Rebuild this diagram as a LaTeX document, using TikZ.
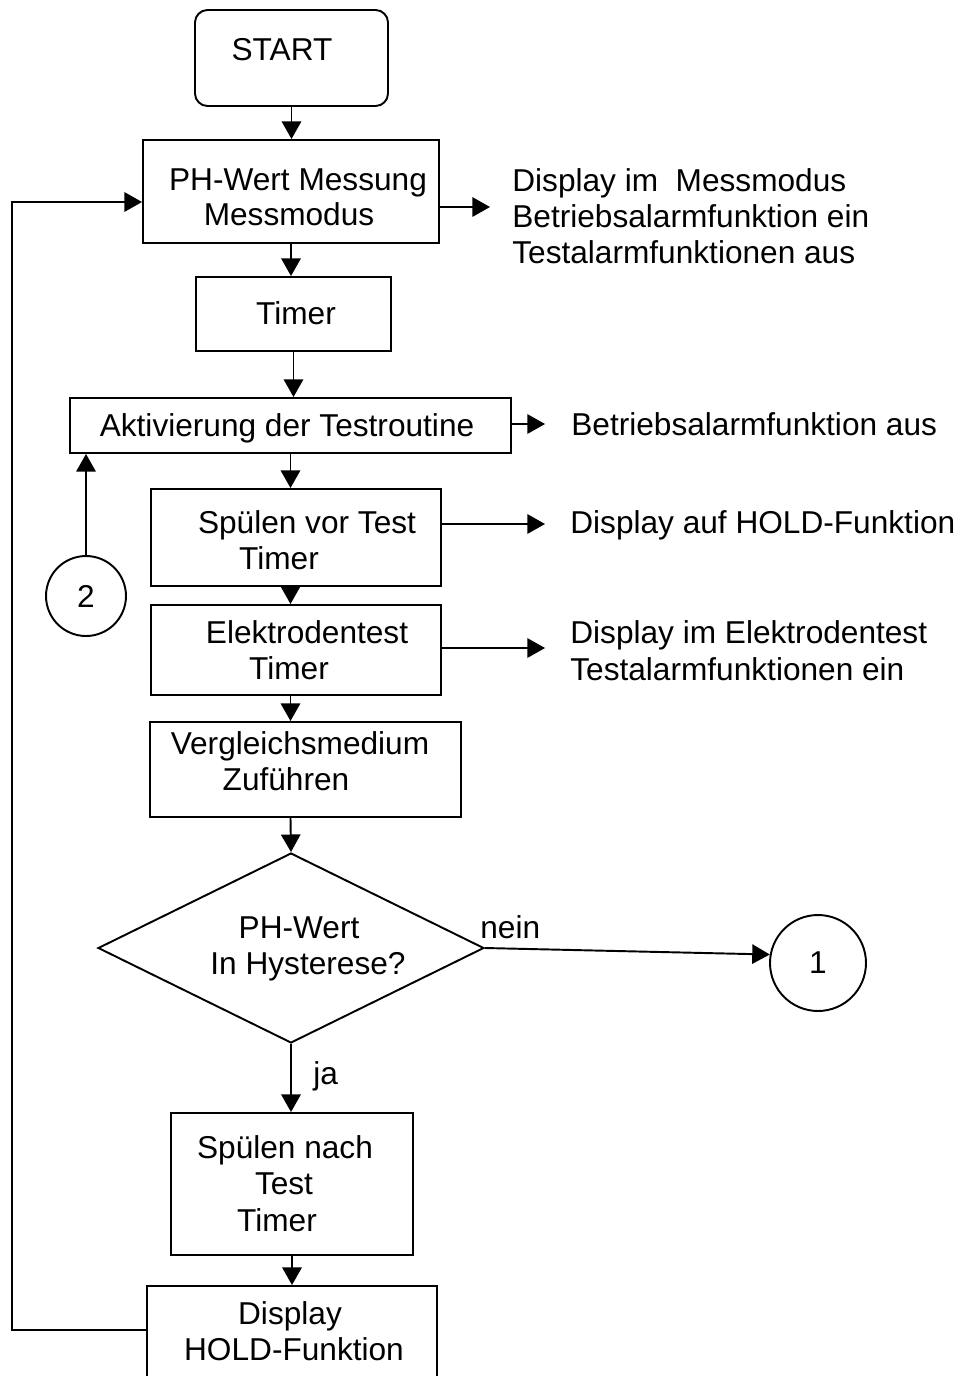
\documentclass[tikz,border=0pt]{standalone}
\usepackage{fontspec}
\setmainfont{Liberation Sans}
\usetikzlibrary{arrows.meta,fit,shapes.geometric}
\begin{document}
\begin{tikzpicture}[x=0.02cm,y=-0.02cm,
  box/.style={draw, line width=1.1pt, inner sep=0pt},
  txt/.style={anchor=base, inner sep=0pt, font=\fontsize{18pt}{20.4pt}\selectfont},
  ltxt/.style={txt, anchor=base west},
  arr/.style={line width=1.1pt, -{Triangle[length=10pt,width=11pt]}},
  conn/.style={draw, circle, line width=1.1pt, inner sep=0pt, font=\fontsize{18pt}{20.4pt}\selectfont}]
\useasboundingbox (0,0) rectangle (966,1376);
\clip (0,0) rectangle (966,1376);

% process boxes
\node[box, rounded corners=0.25cm, fit={(195,10) (388,106)}] (start) {};
\node[txt] at (282,60) {START};

\node[box, fit={(143,140) (439,243)}] (ph) {};
\node[txt] at (298,190) {PH-Wert Messung};
\node[txt] at (289,225) {Messmodus};

\node[box, fit={(196,277) (391,351)}] (timer) {};
\node[txt] at (296,324) {Timer};

\node[box, fit={(70,398) (511,453)}] (akt) {};
\node[txt] at (287,436) {Aktivierung der Testroutine};

\node[box, fit={(151,489) (441,586)}] (svt) {};
\node[txt] at (307,533) {Spülen vor Test};
\node[txt] at (279,569) {Timer};

\node[box, fit={(151,605) (441,695)}] (etest) {};
\node[txt] at (307,643) {Elektrodentest};
\node[txt] at (289,679) {Timer};

\node[box, fit={(150,722) (461,817)}] (verg) {};
\node[txt] at (300,754) {Vergleichsmedium};
\node[txt] at (286,790) {Zuführen};

\node[draw, diamond, line width=1.1pt, inner sep=0pt,
      minimum width=7.72cm, minimum height=3.8cm] (q) at (291,948) {};
\node[txt] at (299,938) {PH-Wert};
\node[txt] at (308,974) {In Hysterese?};

\node[box, fit={(171,1113) (413,1255)}] (snt) {};
\node[txt] at (285,1158) {Spülen nach};
\node[txt] at (284,1194) {Test};
\node[txt] at (277,1231) {Timer};

\node[box, fit={(147,1286) (437,1420)}] (hold) {};
\node[txt] at (290,1324) {Display};
\node[txt] at (294,1360) {HOLD-Funktion};

% connectors (off-page references)
\node[conn, minimum size=1.6cm] (c2) at (86,596) {2};
\node[conn, minimum size=1.92cm] (c1) at (818,963) {1};

% main flow
\draw[arr] (start.south) -- (start.south |- ph.north);
\draw[arr] (ph.south) -- (ph.south |- timer.north);
\draw[arr] (timer.south) -- (timer.south |- akt.north);
\draw[arr] (akt.south) -- (akt.south |- svt.north);
\draw[arr] (akt.south |- svt.south) -- (akt.south |- etest.north);
\draw[arr] (akt.south |- etest.south) -- (akt.south |- verg.north);
\draw[arr] (akt.south |- verg.south) -- (q.north);
\draw[arr] (q.south) -- (q.south |- snt.north);
\draw[arr] (snt.south) -- (snt.south |- hold.north);
\draw[arr] (q.east) -- (c1.170);
\node[ltxt] at (480,938) {nein};
\node[ltxt] at (313,1084) {ja};
\draw[arr] (c2.north) -- (c2.north |- akt.south);

% return loop
\coordinate (lb) at (12,1330);
\coordinate (lt) at (12,202);
\draw[arr] (hold.west |- lb) -- (lb) -- (lt) -- (ph.west |- lt);

% side outputs
\coordinate (e1) at (490,207);
\coordinate (e2) at (545,424);
\coordinate (e3) at (545,524);
\coordinate (e4) at (545,648);
\draw[arr] (ph.east |- e1) -- (e1);
\draw[arr] (akt.east |- e2) -- (e2);
\draw[arr] (svt.east |- e3) -- (e3);
\draw[arr] (etest.east |- e4) -- (e4);

\node[ltxt] at (512,191) {Display im\ \ Messmodus};
\node[ltxt] at (512,227) {Betriebsalarmfunktion ein};
\node[ltxt] at (512,263) {Testalarmfunktionen aus};
\node[ltxt] at (571,435) {Betriebsalarmfunktion aus};
\node[ltxt] at (570,533) {Display auf HOLD-Funktion};
\node[ltxt] at (570,643) {Display im Elektrodentest};
\node[ltxt] at (570,680) {Testalarmfunktionen ein};
\end{tikzpicture}
\end{document}
